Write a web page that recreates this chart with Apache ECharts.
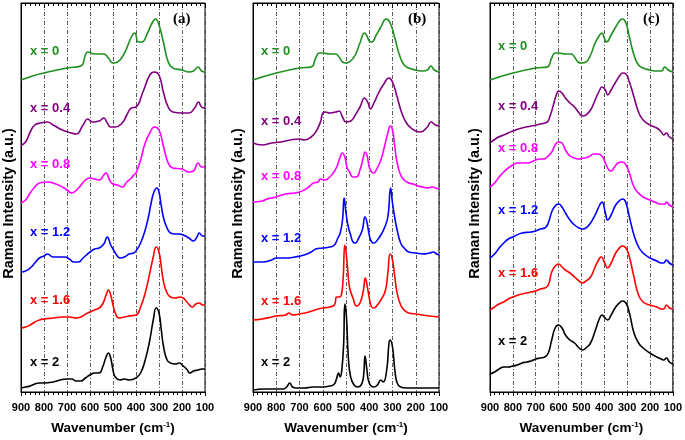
<!DOCTYPE html>
<html>
<head>
<meta charset="utf-8">
<script src="https://cdn.jsdelivr.net/npm/echarts@6/dist/echarts.min.js"></script>
<style>
html,body{margin:0;padding:0;background:#fff;}
#chart{width:685px;height:440px;}
</style>
</head>
<body>
<div id="chart"></div>
<script>
// Tick labels of the wavenumber axes
const xTicks = [900, 800, 700, 600, 500, 400, 300, 200, 100];
const seriesNames = ['x = 0', 'x = 0.4', 'x = 0.8', 'x = 1.2', 'x = 1.6', 'x = 2'];
const seriesColors = ['#1f8f1f', '#800080', '#ff00ff', '#0000ff', '#ff0000', '#000000'];
const panelNames = ['(a)', '(b)', '(c)'];

// Panel (a) spectra, [wavenumber, intensity (a.u., offset as plotted)]
const a0 = [[900,312],[850,316],[800,319],[700,324],[640,326],[620,337],[610,340],[580,338],[540,338],[520,334],[500,329],[480,330],[450,339],[420,355],[405,359],[390,350],[375,350],[350,359],[330,369],[315,373],[300,367],[280,349],[260,330],[240,324],[200,322],[170,320],[150,321],[130,325],[115,321],[100,320]];
const a04 = [[900,247],[880,250],[860,260],[840,267],[815,269],[785,270],[760,267],[720,262],[680,259],[660,258],[630,267],[610,273],[590,270],[560,271],[540,274],[525,269],[510,265],[490,265],[460,269],[440,277],[420,284],[400,285],[370,300],[340,317],[320,320],[300,317],[280,299],[260,285],[240,280],[200,279],[170,279],[145,284],[128,290],[115,285],[100,284]];
const a08 = [[900,189],[880,192],[860,199],[840,205],[820,209],[785,210],[760,209],[720,205],[700,202],[680,199],[650,204],[620,212],[600,214],[580,213],[560,212],[540,217],[530,219],[515,212],[500,208],[480,207],[460,205],[440,210],[420,214],[410,217],[400,219],[380,232],[360,249],[340,259],[320,265],[300,262],[280,245],[260,229],[240,224],[200,223],[170,220],[150,221],[130,229],[115,225],[100,225]];
const a12 = [[900,120],[880,121],[860,124],[840,129],[820,134],[800,136],[785,138],[760,135],[730,135],[710,135],[690,133],[670,130],[650,130],[630,134],[600,140],[580,143],[560,144],[540,148],[525,155],[510,147],[500,143],[490,139],[470,134],[450,135],[430,138],[410,139],[400,141],[380,149],[360,162],[345,176],[335,188],[322,200],[309,204],[300,200],[290,186],[280,174],[265,164],[250,159],[230,158],[210,158],[195,157],[170,154],[150,151],[135,155],[125,159],[110,156],[100,156]];
const a16 = [[900,64],[880,65],[860,67],[840,70],[820,72],[800,73],[760,74],[720,75],[690,75],[660,74],[640,75],[610,79],[580,82],[560,84],[545,88],[530,97],[520,102],[510,97],[500,87],[490,79],[475,74],[450,75],[430,76],[400,77],[380,85],[360,99],[340,119],[325,135],[312,145],[300,140],[290,125],[280,110],[265,99],[250,95],[230,94],[210,95],[195,94],[175,89],[155,85],[140,88],[125,89],[110,87],[100,87]];
const a2 = [[900,4],[880,5],[860,6],[840,8],[820,9],[800,9],[760,10],[730,12],[700,13],[680,13],[660,11],[640,11],[620,14],[600,17],[580,19],[560,19],[545,25],[530,35],[520,39],[510,34],[500,22],[490,15],[470,12],[450,13],[430,12],[400,14],[380,19],[360,32],[340,52],[325,72],[312,84],[300,79],[290,62],[280,45],[265,32],[250,29],[230,28],[210,29],[200,27],[180,23],[165,19],[150,21],[130,22],[115,23],[100,23]];

// Panel (b) spectra
const b0 = [[900,312],[800,319],[700,324],[650,325],[630,334],[615,339],[600,339],[570,338],[545,338],[530,335],[515,330],[500,329],[480,331],[460,337],[440,349],[420,359],[410,356],[400,351],[390,350],[370,357],[350,365],[327,373],[310,369],[290,354],[270,337],[250,327],[230,324],[200,322],[170,321],[150,322],[135,326],[120,322],[100,320]];
const b04 = [[900,249],[860,247],[820,249],[780,250],[740,252],[700,253],[680,252],[650,255],[630,260],[610,270],[600,279],[590,280],[570,279],[545,280],[530,281],[515,275],[500,270],[480,271],[460,277],[440,285],[420,294],[405,289],[395,283],[380,289],[360,299],[340,307],[315,314],[300,310],[280,295],[260,279],[240,269],[220,264],[200,261],[180,260],[150,265],[135,270],[115,267],[100,266]];
const b08 = [[900,190],[860,191],[840,193],[820,194],[800,195],[760,198],[720,199],[700,200],[680,202],[660,205],[640,209],[620,210],[610,213],[590,212],[570,215],[555,219],[540,225],[525,235],[516,239],[505,235],[495,224],[485,220],[470,215],[455,215],[440,222],[425,235],[418,240],[410,237],[400,225],[390,220],[380,219],[370,222],[350,232],[335,245],[320,259],[309,266],[300,262],[290,245],[280,229],[265,217],[250,212],[230,209],[210,208],[190,206],[170,205],[150,204],[130,205],[115,204],[100,203]];
const b12 = [[900,130],[860,130],[820,132],[800,134],[760,134],[720,135],[680,137],[650,140],[630,143],[600,144],[570,145],[550,147],[535,154],[525,159],[515,172],[508,194],[500,179],[490,165],[480,157],[470,150],[460,149],[445,154],[430,162],[418,175],[410,170],[400,157],[390,150],[380,149],[365,152],[350,157],[335,164],[320,175],[308,204],[300,189],[290,174],[280,162],[265,149],[250,144],[230,140],[200,139],[170,138],[140,139],[125,140],[110,138],[100,137]];
const b16 = [[900,72],[860,73],[820,75],[800,76],[760,77],[745,79],[730,77],[700,78],[660,80],[620,83],[600,84],[570,85],[550,87],[540,95],[530,95],[520,97],[512,115],[505,147],[495,129],[485,105],[470,94],[455,86],[440,89],[425,102],[417,114],[408,105],[400,94],[390,85],[380,84],[365,87],[345,94],[330,102],[320,119],[310,138],[300,132],[290,115],[280,99],[265,87],[250,82],[230,79],[200,78],[170,77],[140,76],[100,75]];
const b2 = [[900,2],[850,3],[800,3],[770,3],[755,5],[742,9],[730,5],[715,4],[680,4],[640,5],[600,5],[570,6],[550,8],[540,14],[532,19],[525,15],[518,22],[510,49],[505,88],[498,75],[490,35],[480,15],[465,7],[450,5],[435,7],[425,15],[418,36],[410,22],[400,9],[380,5],[365,7],[350,12],[340,10],[325,22],[315,49],[310,52],[300,45],[290,22],[280,9],[265,5],[240,4],[200,4],[150,4],[100,4]];

// Panel (c) spectra
const c0 = [[900,312],[800,319],[700,324],[650,325],[630,334],[615,339],[600,339],[570,338],[545,338],[530,335],[515,330],[500,329],[480,330],[460,337],[440,349],[420,357],[410,359],[400,354],[390,350],[370,357],[350,365],[330,372],[320,373],[305,369],[290,355],[270,337],[250,327],[230,324],[200,322],[170,321],[150,321],[135,325],[120,322],[100,320]];
const c04 = [[900,249],[870,254],[840,257],[800,261],[760,264],[720,266],[680,268],[650,270],[640,274],[625,285],[610,297],[600,301],[585,299],[570,294],[550,289],[530,285],[510,279],[495,276],[480,277],[460,282],[440,292],[420,302],[410,305],[395,302],[385,297],[370,302],[350,310],[330,317],[320,319],[305,318],[290,310],[270,295],[250,280],[230,272],[200,267],[170,264],[150,260],[140,257],[128,259],[115,255],[100,253]];
const c08 = [[900,205],[880,209],[860,215],[840,220],[820,224],[800,227],[780,229],[760,229],[740,229],[720,230],[700,232],[680,233],[665,233],[650,235],[630,240],[615,247],[600,250],[585,249],[570,242],[550,236],[530,234],[510,233],[490,234],[470,235],[445,238],[430,238],[410,236],[395,229],[380,222],[370,221],[355,225],[340,229],[320,230],[305,227],[290,219],[270,205],[250,199],[230,195],[200,192],[170,189],[150,188],[135,188],[128,190],[115,187],[100,185]];
const c12 = [[900,134],[880,138],[860,144],[840,149],[820,153],[800,155],[760,159],[720,160],[700,161],[680,163],[660,164],[645,169],[630,180],[615,186],[600,188],[585,185],[570,179],[550,172],[530,167],[510,164],[495,163],[480,164],[460,169],[440,177],[420,187],[410,190],[395,179],[385,172],[370,177],[350,187],[330,192],[318,193],[305,189],[290,175],[270,157],[250,145],[230,139],[200,134],[170,131],[150,129],[140,129],[128,132],[115,129],[100,127]];
const c16 = [[900,82],[880,85],[860,88],[840,90],[820,93],[800,95],[760,98],[720,100],[700,101],[680,103],[660,104],[645,107],[630,120],[615,126],[600,128],[585,125],[570,122],[550,119],[530,115],[510,111],[495,109],[480,111],[460,115],[440,125],[420,134],[412,135],[400,130],[385,124],[370,129],[350,139],[330,145],[320,146],[305,144],[290,135],[270,115],[250,97],[230,90],[200,87],[170,85],[150,83],[140,83],[128,87],[115,84],[100,83]];
const c2 = [[900,18],[880,20],[860,23],[840,25],[820,25],[800,26],[780,27],[760,29],[740,30],[720,31],[700,33],[680,34],[660,35],[645,39],[630,52],[615,64],[600,67],[585,64],[570,57],[550,52],[530,49],[510,44],[495,42],[480,44],[460,49],[440,61],[420,74],[410,77],[400,75],[385,72],[370,77],[350,85],[330,90],[320,91],[305,89],[290,79],[270,59],[250,49],[230,44],[200,39],[170,35],[150,33],[140,32],[128,34],[115,30],[100,28]];

const panelData = [
  [a0, a04, a08, a12, a16, a2],
  [b0, b04, b08, b12, b16, b2],
  [c0, c04, c08, c12, c16, c2]
];

const FONT = 'Liberation Sans, Arial, sans-serif';
const grids = [
  {left: 20, width: 185, top: 3, height: 389},
  {left: 253, width: 186, top: 3, height: 389},
  {left: 490, width: 185, top: 3, height: 389}
];
const yNameGaps = [5, 8, 8];
const labelX = [30, 261, 498];
const labelY = [
  [53, 110, 166, 234, 302, 364],
  [53, 123, 178, 240, 303, 364],
  [48, 108, 150, 212, 275, 343]
];
const panelLetterX = [173, 408, 643];

const option = {
  animation: false,
  backgroundColor: '#ffffff',
  grid: grids.map(g => Object.assign({show: true, borderColor: '#000', borderWidth: 1, backgroundColor: 'transparent'}, g)),
  xAxis: [],
  yAxis: [],
  series: [],
  graphic: []
};

for (let p = 0; p < 3; p++) {
  option.xAxis.push({
    type: 'value', gridIndex: p, inverse: true, min: 100, max: 900, interval: 100,
    position: 'bottom',
    name: '{a|Wavenumber (cm}{s|-1}{a|)}',
    nameLocation: 'middle', nameGap: 29,
    nameTextStyle: {
      rich: {
        a: {fontFamily: FONT, fontWeight: 'bold', fontSize: 13.5, color: '#000'},
        s: {fontFamily: FONT, fontWeight: 'bold', fontSize: 8, color: '#000', verticalAlign: 'top', padding: [0, 0, 6, 0]}
      }
    },
    axisLine: {show: true, lineStyle: {color: '#000', width: 1}},
    axisTick: {show: true, inside: false, length: 4, lineStyle: {color: '#000'}},
    minorTick: {show: true, splitNumber: 5, length: 3, lineStyle: {color: '#000'}},
    axisLabel: {show: true, fontFamily: FONT, fontWeight: 'bold', fontSize: 11, color: '#000', margin: 10,
      formatter: v => (xTicks.indexOf(v) >= 0 ? String(v) : '')},
    splitLine: {show: true, lineStyle: {color: '#333', width: 0.8, type: [4, 2, 1, 2]}}
  });
  option.xAxis.push({
    type: 'value', gridIndex: p, inverse: true, min: 100, max: 900, interval: 100,
    position: 'top',
    axisLine: {show: true, lineStyle: {color: '#000', width: 1}},
    axisTick: {show: true, inside: true, length: 5, lineStyle: {color: '#000'}},
    minorTick: {show: true, splitNumber: 5, length: 3, lineStyle: {color: '#000'}},
    axisLabel: {show: false},
    splitLine: {show: false}
  });
  option.yAxis.push({
    type: 'value', gridIndex: p, min: 0, max: 389,
    position: 'left',
    name: 'Raman Intensity (a.u.)', nameLocation: 'middle', nameGap: yNameGaps[p],
    nameTextStyle: {fontFamily: FONT, fontWeight: 'bold', fontSize: 14.5, color: '#000', padding: [0, 12, 0, 0]},
    axisLine: {show: true, lineStyle: {color: '#000', width: 1}},
    axisTick: {show: false}, axisLabel: {show: false}, splitLine: {show: false}
  });
  for (let s = 0; s < 6; s++) {
    option.series.push({
      type: 'line', name: seriesNames[s], xAxisIndex: 2 * p, yAxisIndex: p,
      data: panelData[p][s], showSymbol: false, symbol: 'none',
      smooth: 0.5,
      lineStyle: {color: seriesColors[s], width: 1.6}
    });
    option.graphic.push({
      type: 'text', left: labelX[p], top: labelY[p][s] - 8, z: 10,
      style: {text: seriesNames[s], fill: seriesColors[s], font: 'bold 13px ' + FONT}
    });
  }
  option.graphic.push({
    type: 'text', left: panelLetterX[p], top: 12, z: 10,
    style: {text: panelNames[p], fill: '#000', font: 'bold 15px "Liberation Serif", "Times New Roman", serif'}
  });
}

const chart = echarts.init(document.getElementById('chart'), null, {renderer: 'canvas'});
chart.setOption(option);
</script>
</body>
</html>
